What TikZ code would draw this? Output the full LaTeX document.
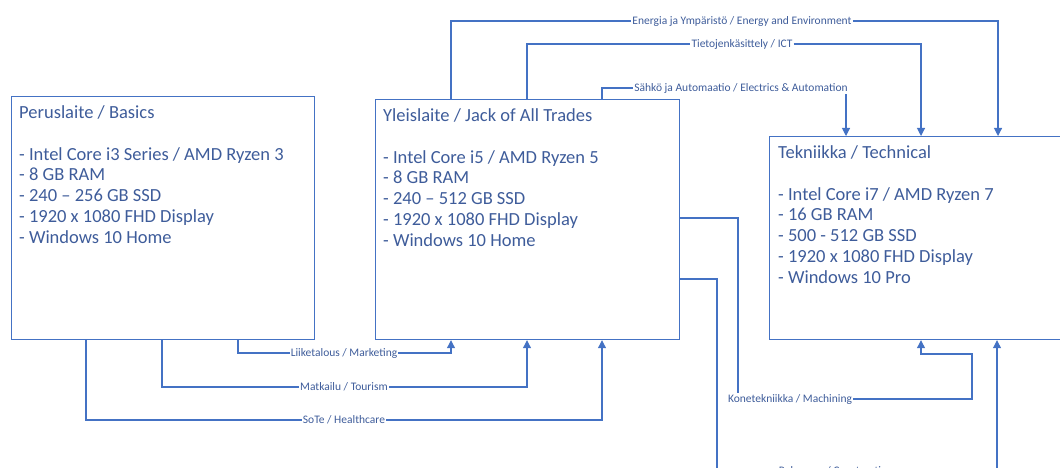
\documentclass[tikz,border=0pt]{standalone}
\usepackage{fontspec}
\setmainfont{Carlito}
\usetikzlibrary{arrows.meta}
\definecolor{linkblue}{HTML}{4472C4}
\definecolor{textblue}{HTML}{3E5C9A}

\begin{document}
\begin{tikzpicture}[x=1pt, y=-1pt,
    box/.style={draw=linkblue, line width=1.2pt, anchor=north west, inner sep=0},
    spec/.style={anchor=north west, align=left, inner sep=0, text=textblue,
        font=\fontsize{18.5}{20.7}\selectfont},
    tag/.style={inner sep=1pt, text=textblue, font=\fontsize{11.5}{13}\selectfont},
    link/.style={draw=linkblue, line width=1.1pt},
    feed/.style={link, -{Triangle[width=8pt,length=8pt]}}]
    \useasboundingbox (0,0) rectangle (1060,468);
    \clip (0,0) rectangle (1060,468);

    % boxes
    \node[box, minimum width=303, minimum height=243] (basic) at (11,96) {};
    \node[box, minimum width=304, minimum height=240] (jack) at (375,99) {};
    \node[box, minimum width=306, minimum height=203] (tech) at (769,136) {};

    \node[spec] (basictext) at ([shift={(8,9.5)}]basic.north west)
        {Peruslaite / Basics\\[21pt]
         - Intel Core i3 Series / AMD Ryzen 3\\
         - 8 GB RAM\\
         - 240 – 256 GB SSD\\
         - 1920 x 1080 FHD Display\\
         - Windows 10 Home};
    \node[spec] (jacktext) at ([shift={(8,9.5)}]jack.north west)
        {Yleislaite / Jack of All Trades\\[21pt]
         - Intel Core i5 / AMD Ryzen 5\\
         - 8 GB RAM\\
         - 240 – 512 GB SSD\\
         - 1920 x 1080 FHD Display\\
         - Windows 10 Home};
    \node[spec] (techtext) at ([shift={(9,9.5)}]tech.north west)
        {Tekniikka / Technical\\[21pt]
         - Intel Core i7 / AMD Ryzen 7\\
         - 16 GB RAM\\
         - 500 - 512 GB SSD\\
         - 1920 x 1080 FHD Display\\
         - Windows 10 Pro};

    % line labels
    \node[tag] (energy) at (742,21) {Energia ja Ympäristö / Energy and Environment};
    \node[tag] (ict) at (742,44) {Tietojenkäsittely / ICT};
    \node[tag] (elec) at (741,88) {Sähkö ja Automaatio / Electrics \& Automation};
    \node[tag] (marketing) at (344,353) {Liiketalous / Marketing};
    \node[tag] (tourism) at (344,387) {Matkailu / Tourism};
    \node[tag] (health) at (344,420) {SoTe / Healthcare};
    \node[tag] (machining) at (790,399) {Konetekniikka / Machining};
    \node[tag] (construction) at (836,471) {Rakennus / Construction};

    % Yleislaite -> Tekniikka
    \draw[link] (jack.north -| 451,0) |- (energy);
    \draw[feed] (energy) -| (tech.north -| 998,0);
    \draw[link] (jack.north -| 527,0) |- (ict);
    \draw[feed] (ict) -| (tech.north -| 921,0);
    \draw[link] (jack.north -| 602,0) |- (elec);
    \draw[feed] (elec.south -| 846,0) -- (tech.north -| 846,0);
    \draw[link] (jack.east |- 0,218) -| (machining.north -| 738,0);
    \draw[feed] (machining) -| (972,354) -| (tech.south -| 921,0);
    \draw[link] (jack.east |- 0,279) -| (717,471) -- (construction);
    \draw[feed] (construction) -| (tech.south -| 997,0);

    % Peruslaite -> Yleislaite
    \draw[link] (basic.south -| 238,0) |- (marketing);
    \draw[feed] (marketing) -| (jack.south -| 451,0);
    \draw[link] (basic.south -| 162,0) |- (tourism);
    \draw[feed] (tourism) -| (jack.south -| 527,0);
    \draw[link] (basic.south -| 86,0) |- (health);
    \draw[feed] (health) -| (jack.south -| 602,0);
\end{tikzpicture}
\end{document}
